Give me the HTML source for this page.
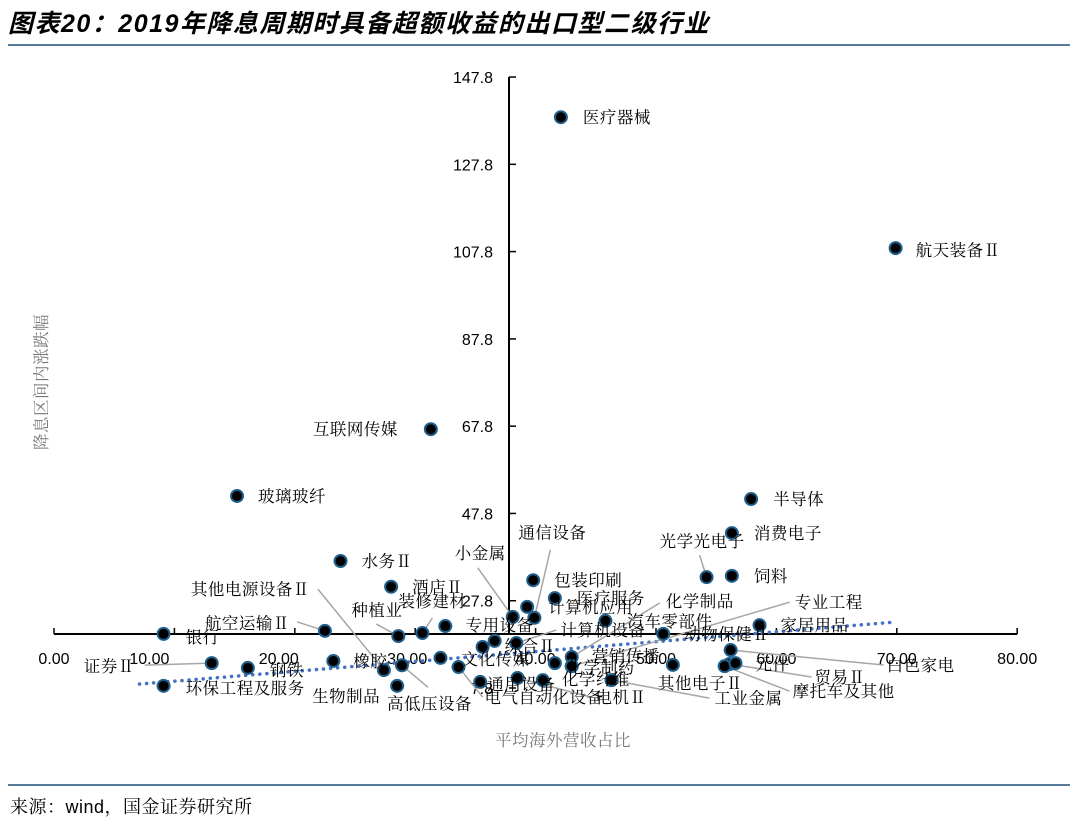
<!DOCTYPE html>
<html><head><meta charset="utf-8"><style>
body{margin:0;background:#fff;}
svg{display:block;font-family:"Liberation Sans","Noto Serif CJK SC",serif;}
</style></head><body>
<svg id="chart" width="1080" height="820" viewBox="0 0 1080 820">
<text x="8" y="32" font-size="25" font-weight="bold" font-style="italic" letter-spacing="1.5" font-family="'Liberation Sans','Noto Sans CJK SC',sans-serif" fill="#000">图表20：2019年降息周期时具备超额收益的出口型二级行业</text>
<line x1="8" y1="45" x2="1070" y2="45" stroke="#1f4e79" stroke-width="1.5"/>
<line x1="8" y1="785" x2="1070" y2="785" stroke="#1f4e79" stroke-width="1.5"/>
<text x="10" y="813" font-size="18" letter-spacing="0.5" font-family="'Liberation Sans','Noto Serif CJK SC',serif">来源：wind，国金证券研究所</text>
<text x="563" y="746" font-size="16.5" letter-spacing="0.5" fill="#777" text-anchor="middle">平均海外营收占比</text>
<text transform="translate(47,382) rotate(-90)" font-size="16.5" letter-spacing="0.5" fill="#777" text-anchor="middle">降息区间内涨跌幅</text>
<g id="plot"></g>
</svg>
<script>
const xTicks=[0,10,20,30,40,50,60,70,80];
const xTickLabels=["0.00","10.00","20.00","30.00","40.00","50.00","60.00","70.00","80.00"];
const yTicks=[7.8,27.8,47.8,67.8,87.8,107.8,127.8,147.8];
const yTickLabels=["7.8","27.8","47.8","67.8","87.8","107.8","127.8","147.8"];
const names=["医疗器械","航天装备Ⅱ","互联网传媒","玻璃玻纤","半导体","消费电子","水务Ⅱ","光学光电子","饲料","包装印刷","通信设备","小金属","酒店Ⅱ","医疗服务","计算机应用","汽车零部件","化学制品","专业工程","专用设备","计算机设备","综合Ⅱ","动物保健Ⅱ","家居用品","文化传媒","营销传播","化学制药","其他电子Ⅱ","化学纤维","通用设备","电气自动化设备","电机Ⅱ","工业金属","白色家电","贸易Ⅱ","摩托车及其他","元件","银行","证券Ⅱ","钢铁","环保工程及服务","航空运输Ⅱ","其他电源设备Ⅱ","种植业","装修建材","橡胶","生物制品","高低压设备",""];
const xVals=[42.1,69.9,31.3,15.2,57.9,56.3,23.8,54.2,56.3,39.8,39.9,38.1,28.0,41.6,39.3,45.8,43.0,43.0,36.6,38.4,35.6,50.6,58.6,32.1,41.6,43.0,51.4,40.6,35.4,33.6,38.5,46.3,56.2,56.1,55.7,56.6,9.1,13.1,16.1,9.1,22.5,27.4,28.6,30.6,23.2,28.5,28.9,32.5];
const yVals=[138.6,108.6,67.1,51.8,51.1,43.3,36.9,33.2,33.5,32.5,23.9,24.1,31.0,28.4,26.4,23.2,14.9,12.8,18.6,18.1,17.2,20.2,22.2,14.7,13.5,12.8,13.1,9.6,9.2,12.6,10.1,9.6,16.5,13.3,12.8,13.5,20.2,13.5,12.4,8.3,20.9,11.9,19.7,20.4,14.0,8.3,13.0,22.0];
const trendX=[7.1,69.8];
const trendY=[8.7,22.9];
const lab=[[22,0],[20,2],[-33,0,'e'],[21,0],[22,0],[22,0],[21,0],[-47,-36],[22,0],[21,0],[-16,-85],[-58,-64],[21,0],[22,0],[21,0],[22,0],[94,-56],[223,-64],[-29,-16],[44,-13],[22,-1],[21,0],[21,0],[21,1],[37,-7],[-5,1],[-15,18],[19,-1],[7,2],[26,30],[78,19],[103,18],[156,15],[85,13],[68,25],[20,1],[22,3],[-77,3,'e'],[22,2],[22,2],[-120,-8],[-193,-81],[-47,-26],[-24,-32],[20,0],[-85,10],[-15,38],[0,0]];
const leaders=[null,null,null,null,null,null,null,[-7,-22],null,null,[16,-68],[-35,-49],null,null,null,null,[88,-54],[218,-64],null,[40,-13],null,null,null,null,null,null,null,null,null,[24,30],[73,19],[98,18],[153,15],[82,13],[65,25],null,null,[-67,2],null,null,[-28,-9],[-66,-81],[-22,-12],[10,-15],null,null,[26,22],null];

const X0=54,XS=12.04,Y0=688,YS=4.364;
const sx=v=>X0+v*XS;
const sy=v=>Y0-(v-7.8)*YS;
const NS="http://www.w3.org/2000/svg";
const g=document.getElementById('plot');
function mk(t,a,p){const e=document.createElementNS(NS,t);for(const k in a)e.setAttribute(k,a[k]);(p||g).appendChild(e);return e;}
const axY=634, axX=509;
let e=mk('line',{x1:sx(0),y1:axY,x2:sx(80),y2:axY,stroke:'#000','stroke-width':2});


e=mk('line',{x1:axX,y1:sy(147.8),x2:axX,y2:axY,stroke:'#000','stroke-width':2});


xTicks.forEach((v,i)=>{
  const t=mk('line',{x1:sx(v),y1:axY,x2:sx(v),y2:axY-6,stroke:'#000','stroke-width':1.5});
  
  
  const l=mk('text',{x:sx(v)-(v>0&&v<40?(v===10?25:v===20?16:8):0),y:axY+30,'font-size':16,'text-anchor':'middle','font-family':"'Liberation Sans',sans-serif"});
  l.textContent=xTickLabels[i];
  
  
});
yTicks.forEach((v,i)=>{
  const t=mk('line',{x1:axX,y1:sy(v),x2:axX+7,y2:sy(v),stroke:'#000','stroke-width':1.5});
  
  
  const l=mk('text',{x:axX-16,y:sy(v)+6,'font-size':16,'text-anchor':'end','font-family':"'Liberation Sans',sans-serif"});
  l.textContent=yTickLabels[i];
  
  
});
e=mk('line',{x1:sx(trendX[0]),y1:sy(trendY[0]),x2:sx(trendX[1]),y2:sy(trendY[1]),stroke:'#4472c4','stroke-width':3.5,'stroke-dasharray':'0.1 7','stroke-linecap':'round'});


names.forEach((n,i)=>{
  const px=sx(xVals[i]),py=sy(yVals[i]);
  if(leaders[i]){
    const ln=mk('line',{x1:px,y1:py,x2:px+leaders[i][0],y2:py+leaders[i][1],stroke:'#a6a6a6','stroke-width':1.5});
    
    
  }
});
names.forEach((n,i)=>{
  const px=sx(xVals[i]),py=sy(yVals[i]);
  const c=mk('circle',{cx:px,cy:py,r:6,fill:'#000',stroke:'#1f5f8b','stroke-width':2});
  
  
});
names.forEach((n,i)=>{
  if(!n)return;
  const px=sx(xVals[i]),py=sy(yVals[i]);
  const o=lab[i];
  const t=mk('text',{x:px+o[0],y:py+o[1]+6,'font-size':16.5,'letter-spacing':0.5,'text-anchor':o[2]==='e'?'end':'start','font-family':"'Liberation Serif','Noto Serif CJK SC',serif"});
  t.textContent=n;
  
  
});
</script>
</body></html>
